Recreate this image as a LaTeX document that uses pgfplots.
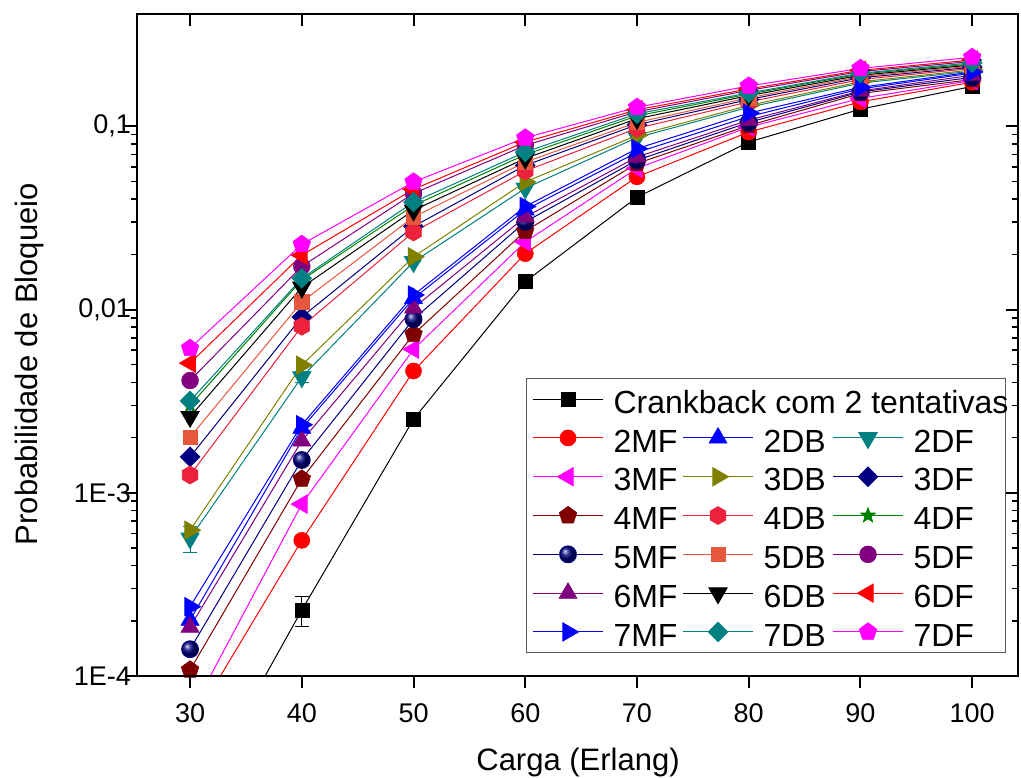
\documentclass[border=0pt]{standalone}
\usepackage{fontspec}
\setmainfont{Liberation Sans}
\usepackage{pgfplots}
\pgfplotsset{compat=1.18}
\usetikzlibrary{plotmarks}

\definecolor{cTeal}{RGB}{0,128,128}
\definecolor{cOlive}{RGB}{128,128,0}
\definecolor{cNavy}{RGB}{0,0,128}
\definecolor{cMaroon}{RGB}{128,0,0}
\definecolor{cCrimson}{RGB}{236,34,60}
\definecolor{cGreen}{RGB}{0,128,0}
\definecolor{cTomato}{RGB}{229,88,60}
\definecolor{cPurple}{RGB}{128,0,128}
\definecolor{cMagenta}{RGB}{255,0,255}
\definecolor{cRed}{RGB}{255,0,0}
\definecolor{cBlue}{RGB}{0,0,255}

\pgfdeclareplotmark{hexagon*}{%
  \pgfpathmoveto{\pgfpointpolar{90}{\pgfplotmarksize}}%
  \pgfpathlineto{\pgfpointpolar{150}{\pgfplotmarksize}}%
  \pgfpathlineto{\pgfpointpolar{210}{\pgfplotmarksize}}%
  \pgfpathlineto{\pgfpointpolar{270}{\pgfplotmarksize}}%
  \pgfpathlineto{\pgfpointpolar{330}{\pgfplotmarksize}}%
  \pgfpathlineto{\pgfpointpolar{30}{\pgfplotmarksize}}%
  \pgfpathclose
  \pgfusepathqfillstroke}
\pgfdeclareplotmark{fstar}{%
  \pgfpathmoveto{\pgfpointpolar{90}{\pgfplotmarksize}}%
  \pgfpathlineto{\pgfpointpolar{126}{0.42\pgfplotmarksize}}%
  \pgfpathlineto{\pgfpointpolar{162}{\pgfplotmarksize}}%
  \pgfpathlineto{\pgfpointpolar{198}{0.42\pgfplotmarksize}}%
  \pgfpathlineto{\pgfpointpolar{234}{\pgfplotmarksize}}%
  \pgfpathlineto{\pgfpointpolar{270}{0.42\pgfplotmarksize}}%
  \pgfpathlineto{\pgfpointpolar{306}{\pgfplotmarksize}}%
  \pgfpathlineto{\pgfpointpolar{342}{0.42\pgfplotmarksize}}%
  \pgfpathlineto{\pgfpointpolar{18}{\pgfplotmarksize}}%
  \pgfpathlineto{\pgfpointpolar{54}{0.42\pgfplotmarksize}}%
  \pgfpathclose
  \pgfusepathqfillstroke}

\pgfplotsset{
  ser/.style={line width=0.5pt, color=#1, mark options={solid, fill=#1, draw=#1, line width=0.3pt}},
  tup/.style={mark=triangle*, mark size=5.2pt},
  tdown/.style={mark=triangle*, mark size=5.2pt, mark options={rotate=180}},
  tleft/.style={mark=triangle*, mark size=5.2pt, mark options={rotate=90}},
  tright/.style={mark=triangle*, mark size=5.2pt, mark options={rotate=-90}},
  dia/.style={mark=square*, mark size=3.4pt, mark options={rotate=45}},
  errb/.style={error bars/.cd, y dir=both, y explicit,
     error bar style={line width=0.5pt, solid},
     error mark options={rotate=90, mark size=3.5pt, line width=0.5pt}},
}

\begin{document}
\begin{tikzpicture}
\begin{axis}[
  at={(0,0)}, anchor=south west,
  scale only axis, width=440.5pt, height=331pt,
  xmin=25.25, xmax=104.1, ymin=1e-4, ymax=0.41, ymode=log,
  xtick={30,40,50,60,70,80,90,100},
  ytick={1e-4,1e-3,1e-2,1e-1},
  yticklabels={1E-4,1E-3,{0,01},{0,1}},
  xtick pos=left, ytick pos=left, tick align=outside,
  major tick length=6pt, minor tick length=3pt,
  axis line style={line width=1pt},
  every tick/.style={black, line width=1pt},
  minor tick style={line width=0.8pt},
  /pgf/number format/assume math mode=true,
  tick label style={font=\fontsize{13.5}{16}\selectfont},
  xticklabel style={yshift=-4.5pt},
  yticklabel style={xshift=6.5pt},
  xlabel={Carga (Erlang)}, ylabel={Probabilidade de Bloqueio},
  label style={font=\fontsize{15.5}{18}\selectfont},
  xlabel style={at={(axis description cs:0.5006,-0.131)}, anchor=center},
  ylabel style={at={(axis description cs:-0.1215,0.471)}, anchor=center},
  legend columns=3,
  legend cell align=left,
  legend image code/.code={\draw[mark repeat=2,mark phase=2,#1] plot coordinates {(0pt,0pt) (17.5pt,0pt) (35pt,0pt)};},
  legend style={at={(axis description cs:0.9864,0.0347)}, anchor=south east,
     draw=black!65, line width=0.5pt, inner xsep=3pt, inner ysep=0.6pt,
     font=\fontsize{16}{19}\selectfont, row sep=0pt,
     nodes={inner xsep=0pt, inner ysep=0pt, text height=16.8pt, text depth=2.6pt},
     /tikz/every odd column/.append style={column sep=5pt},
     /tikz/every even column/.append style={column sep=2.5pt}},
]
% Crankback
\addplot[ser=black, mark=square*, mark size=3.5pt, errb] coordinates {
 (30,1.84e-5) +- (0,0) (40,2.29e-4) +- (0,4.2e-5) (50,2.52e-3) +- (0,2.2e-4) (60,0.0142) +- (0,0)
 (70,0.041) +- (0,0) (80,0.082) +- (0,0) (90,0.124) +- (0,0) (100,0.165) +- (0,0)};
\addlegendentry{\makebox[32pt][l]{Crankback com 2 tentativas}}
\addlegendimage{empty legend}\addlegendentry{}
\addlegendimage{empty legend}\addlegendentry{}
% 2MF
\addplot[ser=cRed, mark=*, mark size=4pt] coordinates {
 (30,5.3e-5) (40,5.5e-4) (50,4.62e-3) (60,0.0202) (70,0.053) (80,0.093) (90,0.136) (100,0.174)};
\addlegendentry{\makebox[32pt][l]{2MF}}
% 2DB
\addplot[ser=cBlue, tup] coordinates {
 (30,2.02e-4) (40,2.25e-3) (50,1.15e-2) (60,0.0350) (70,0.072) (80,0.113) (90,0.160) (100,0.195)};
\addlegendentry{\makebox[32pt][l]{2DB}}
% 2DF
\addplot[ser=cTeal, tdown, errb] coordinates {
 (30,5.65e-4) +- (0,9e-5) (40,4.28e-3) +- (0,3e-4) (50,1.82e-2) +- (0,0) (60,0.0459) +- (0,0)
 (70,0.0868) +- (0,0) (80,0.127) +- (0,0) (90,0.172) +- (0,0) (100,0.200) +- (0,0)};
\addlegendentry{\makebox[43pt][l]{2DF}}
% 3MF
\addplot[ser=cMagenta, tleft] coordinates {
 (30,6.2e-5) (40,8.67e-4) (50,6.07e-3) (60,0.0234) (70,0.059) (80,0.099) (90,0.142) (100,0.178)};
\addlegendentry{\makebox[32pt][l]{3MF}}
% 3DB
\addplot[ser=cOlive, tright] coordinates {
 (30,6.25e-4) (40,4.97e-3) (50,1.94e-2) (60,0.0497) (70,0.0893) (80,0.130) (90,0.175) (100,0.203)};
\addlegendentry{\makebox[32pt][l]{3DB}}
% 3DF
\addplot[ser=cNavy, dia] coordinates {
 (30,1.57e-3) (40,9.1e-3) (50,2.84e-2) (60,0.0612) (70,0.102) (80,0.140) (90,0.184) (100,0.210)};
\addlegendentry{\makebox[43pt][l]{3DF}}
% 4MF
\addplot[ser=cMaroon, mark=pentagon*, mark size=4.6pt] coordinates {
 (30,1.08e-4) (40,1.19e-3) (50,7.33e-3) (60,0.0268) (70,0.0627) (80,0.101) (90,0.151) (100,0.180)};
\addlegendentry{\makebox[32pt][l]{4MF}}
% 4DB
\addplot[ser=cCrimson, mark=hexagon*, mark size=4.5pt] coordinates {
 (30,1.25e-3) (40,8.1e-3) (50,2.65e-2) (60,0.0570) (70,0.0975) (80,0.136) (90,0.180) (100,0.207)};
\addlegendentry{\makebox[32pt][l]{4DB}}
% 4DF
\addplot[ser=cGreen, mark=fstar, mark size=4pt] coordinates {
 (30,3.0e-3) (40,1.45e-2) (50,3.7e-2) (60,0.070) (70,0.114) (80,0.150) (90,0.193) (100,0.219)};
\addlegendentry{\makebox[43pt][l]{4DF}}
% 5MF
\addplot[ser=cNavy, mark=ball, mark size=4.2pt, mark options={ball color=cNavy}] coordinates {
 (30,1.40e-4) (40,1.51e-3) (50,8.86e-3) (60,0.0301) (70,0.0653) (80,0.105) (90,0.154) (100,0.185)};
\addlegendentry{\makebox[32pt][l]{5MF}}
% 5DB
\addplot[ser=cTomato, mark=square*, mark size=3.6pt] coordinates {
 (30,2.01e-3) (40,1.10e-2) (50,3.2e-2) (60,0.0638) (70,0.105) (80,0.143) (90,0.187) (100,0.213)};
\addlegendentry{\makebox[32pt][l]{5DB}}
% 5DF
\addplot[ser=cPurple, mark=*, mark size=4.2pt] coordinates {
 (30,4.1e-3) (40,1.72e-2) (50,4.3e-2) (60,0.0787) (70,0.120) (80,0.157) (90,0.199) (100,0.226)};
\addlegendentry{\makebox[43pt][l]{5DF}}
% 6MF
\addplot[ser=cPurple, tup] coordinates {
 (30,1.85e-4) (40,1.92e-3) (50,1.02e-2) (60,0.032) (70,0.068) (80,0.108) (90,0.156) (100,0.19)};
\addlegendentry{\makebox[32pt][l]{6MF}}
% 6DB
\addplot[ser=black, tdown] coordinates {
 (30,2.6e-3) (40,1.32e-2) (50,3.48e-2) (60,0.0668) (70,0.110) (80,0.147) (90,0.190) (100,0.216)};
\addlegendentry{\makebox[32pt][l]{6DB}}
% 6DF
\addplot[ser=cRed, tleft] coordinates {
 (30,5.1e-3) (40,1.98e-2) (50,4.53e-2) (60,0.082) (70,0.123) (80,0.160) (90,0.202) (100,0.230)};
\addlegendentry{\makebox[43pt][l]{6DF}}
% 7MF
\addplot[ser=cBlue, tright] coordinates {
 (30,2.39e-4) (40,2.35e-3) (50,1.20e-2) (60,0.0365) (70,0.0755) (80,0.118) (90,0.163) (100,0.198)};
\addlegendentry{\makebox[32pt][l]{7MF}}
% 7DB
\addplot[ser=cTeal, dia] coordinates {
 (30,3.17e-3) (40,1.48e-2) (50,3.86e-2) (60,0.0724) (70,0.117) (80,0.152) (90,0.195) (100,0.222)};
\addlegendentry{\makebox[32pt][l]{7DB}}
% 7DF
\addplot[ser=cMagenta, mark=pentagon*, mark size=4.6pt] coordinates {
 (30,6.15e-3) (40,2.27e-2) (50,4.97e-2) (60,0.0865) (70,0.127) (80,0.166) (90,0.207) (100,0.238)};
\addlegendentry{\makebox[43pt][l]{7DF}}
\end{axis}
\begin{axis}[
  at={(0,0)}, anchor=south west,
  scale only axis, width=440.5pt, height=331pt,
  xmin=25.25, xmax=104.1, ymin=1e-4, ymax=0.41, ymode=log,
  xtick={30,40,50,60,70,80,90,100},
  ytick={1e-4,1e-3,1e-2,1e-1},
  xticklabels={}, yticklabels={},
  xtick pos=right, ytick pos=right, tick align=inside,
  major tick length=6pt, minor tick length=3pt,
  axis line style={line width=1pt},
  every tick/.style={black, line width=1pt},
  minor tick style={line width=0.8pt},
]
\end{axis}
\pgfresetboundingbox
\path[use as bounding box] (-68.5pt,-50.5pt) rectangle (442pt,338pt);
\end{tikzpicture}
\end{document}
